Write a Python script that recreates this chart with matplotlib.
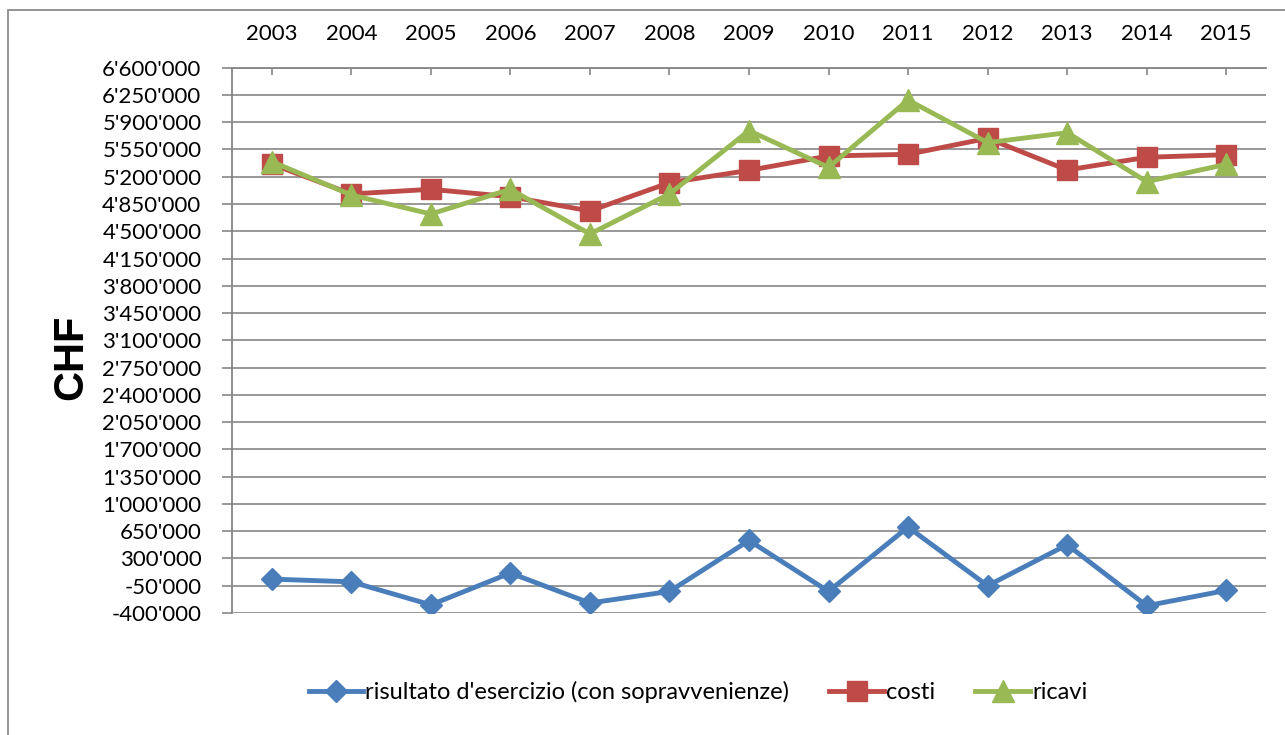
import matplotlib
matplotlib.use("Agg")
import matplotlib.pyplot as plt
from matplotlib.ticker import FuncFormatter, MultipleLocator
from matplotlib.patches import Rectangle

years = ["2003", "2004", "2005", "2006", "2007", "2008", "2009",
         "2010", "2011", "2012", "2013", "2014", "2015"]
risultato = [35000, 0, -295000, 113000, -272000, -123000, 531000,
             -123000, 703000, -50000, 476000, -307000, -110000]
costi = [5363000, 4979000, 5039000, 4944000, 4761000, 5124000, 5282000,
         5467000, 5488000, 5694000, 5287000, 5450000, 5483000]
ricavi = [5394000, 4966000, 4722000, 5039000, 4466000, 4979000, 5792000,
          5321000, 6185000, 5638000, 5766000, 5137000, 5360000]
series_names = ["risultato d'esercizio (con sopravvenienze)", "costi", "ricavi"]
y_min, y_max, y_step = -400000, 6600000, 350000

plt.rcParams['font.family'] = ['Lato', 'DejaVu Sans']

fig = plt.figure(figsize=(12.85, 7.35), dpi=100)
ax = fig.add_axes([232/1285, 1 - 613/735, (1266-232)/1285, (613-67.7)/735])

# outer chart border (left and top visible)
fig.patches.append(Rectangle((7.5/1285, -0.1), 1.2, 1 - 10.5/735 + 0.1,
                             transform=fig.transFigure, fill=False,
                             edgecolor='#8c8c8c', linewidth=1.3))

x = list(range(len(years)))
blue, red, green = '#4A7EBB', '#BE4B48', '#98B954'
ax.plot(x, risultato, color=blue, lw=3.5, marker='D', ms=11, zorder=3,
        label=series_names[0])
ax.plot(x, costi, color=red, lw=3.5, marker='s', ms=14, zorder=3,
        label=series_names[1])
ax.plot(x, ricavi, color=green, lw=3.5, marker='^', ms=16.5, zorder=4,
        label=series_names[2])

ax.set_xlim(-0.5, len(years) - 0.5)
ax.set_ylim(y_min, y_max)
ax.yaxis.set_major_locator(MultipleLocator(y_step, offset=y_min % y_step))
ax.yaxis.set_major_formatter(FuncFormatter(lambda v, p: f"{v:,.0f}".replace(',', "'")))
ax.grid(axis='y', color='#868686', lw=1.2)
ax.set_axisbelow(True)

ax.xaxis.tick_top()
ax.set_xticks(x)
ax.set_xticklabels(years)
ax.tick_params(axis='x', direction='in', length=5, width=1.2, color='#868686',
               labelsize=16, pad=17)
ax.tick_params(axis='y', direction='out', length=7, width=1.2, color='#868686',
               labelsize=16, pad=15)
for s in ['right', 'bottom']:
    ax.spines[s].set_visible(False)
for s in ['left', 'top']:
    ax.spines[s].set_color('#868686')
    ax.spines[s].set_linewidth(1.3)

fig.text(71/1285, 1 - 357/735, 'CHF', rotation=90, ha='center', va='center',
         fontsize=30, fontweight='bold', family=['Liberation Sans', 'DejaVu Sans'])

handles, labels = ax.get_legend_handles_labels()
fig.legend(handles, labels, loc='center', bbox_to_anchor=(698/1285, 1 - 692/735),
           ncol=3, frameon=False, fontsize=17, handlelength=2.3,
           handletextpad=0.1, columnspacing=1.7)

fig.savefig('out.png', dpi=100)
